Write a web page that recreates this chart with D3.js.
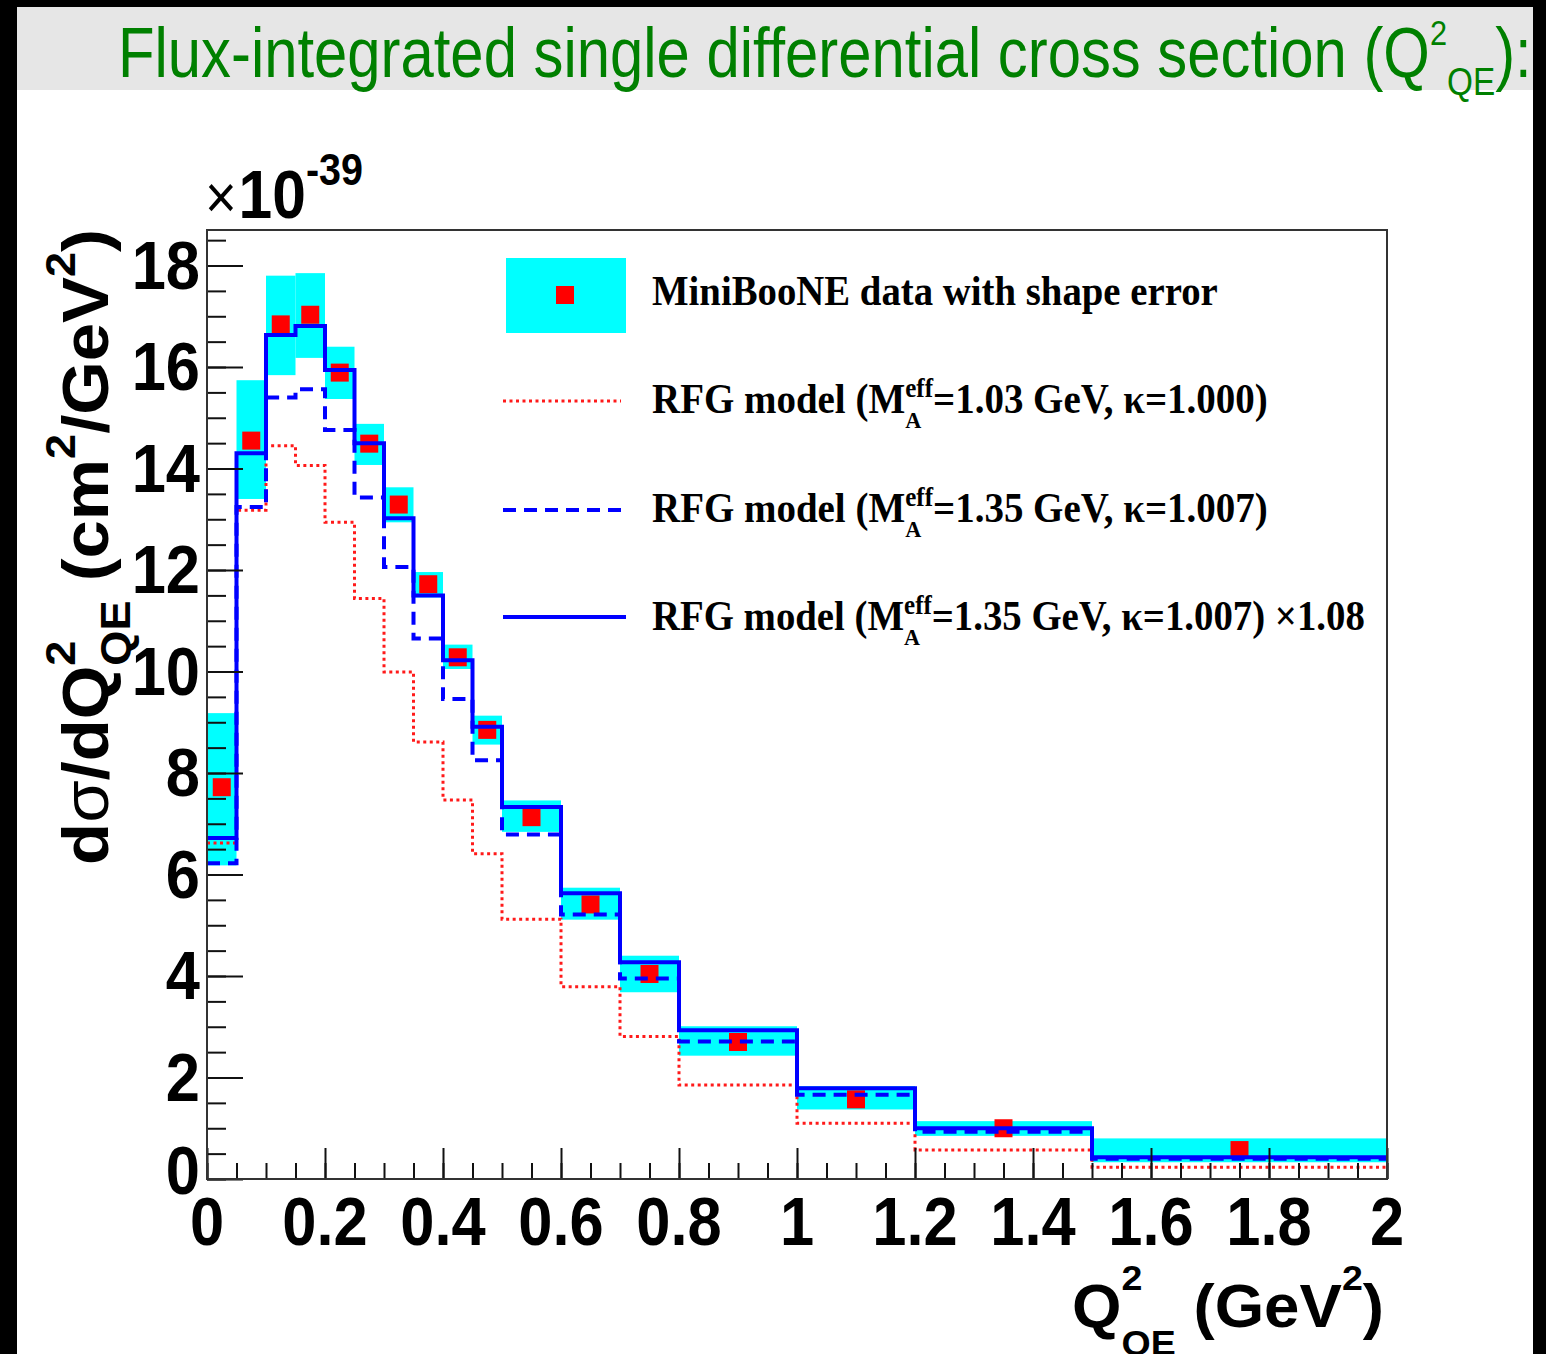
<!DOCTYPE html>
<html>
<head>
<meta charset="utf-8">
<script src="https://cdn.jsdelivr.net/npm/d3@7"></script>
<style>
  html, body { margin: 0; padding: 0; background: #fff; }
  svg { display: block; }
  text { white-space: pre; }
</style>
</head>
<body>
<svg id="chart" width="1546" height="1354"></svg>
<script>
// Q^2_QE bin edges (GeV^2)
const binEdges = [0, 0.05, 0.1, 0.15, 0.2, 0.25, 0.3, 0.35, 0.4, 0.45, 0.5, 0.6, 0.7, 0.8, 1.0, 1.2, 1.5, 2.0];

// MiniBooNE measured cross section, units of 1e-39 cm^2/GeV^2
const dataValues   = [7.72, 14.55, 16.84, 17.03, 15.89, 14.49, 13.29, 11.72, 10.28, 8.85, 7.13, 5.41, 4.04, 2.70, 1.57, 1.00, 0.57];
// shape-error band limits
const shapeErrHigh = [9.18, 15.74, 17.80, 17.85, 16.40, 14.88, 13.63, 11.96, 10.53, 9.13, 7.46, 5.74, 4.40, 3.01, 1.83, 1.14, 0.80];
const shapeErrLow  = [6.18, 13.40, 15.84, 16.18, 15.37, 14.07, 12.94, 11.46, 10.05, 8.56, 6.84, 5.11, 3.68, 2.43, 1.37, 0.85, 0.33];

// RFG model predictions
const rfgMA103     = [6.62, 13.18, 14.45, 14.06, 12.94, 11.44, 9.99, 8.61, 7.47, 6.41, 5.12, 3.79, 2.81, 1.85, 1.10, 0.57, 0.23];
const rfgMA135     = [6.22, 13.24, 15.40, 15.56, 14.76, 13.43, 12.06, 10.65, 9.46, 8.25, 6.79, 5.21, 3.95, 2.71, 1.66, 0.93, 0.40];
const rfgMA135x108 = [6.72, 14.30, 16.63, 16.81, 15.94, 14.50, 13.02, 11.50, 10.22, 8.91, 7.33, 5.63, 4.27, 2.93, 1.79, 1.00, 0.43];

// axis ticks
const xMajorTicks = [0, 0.2, 0.4, 0.6, 0.8, 1.0, 1.2, 1.4, 1.6, 1.8, 2.0];
const xTickLabels = ["0", "0.2", "0.4", "0.6", "0.8", "1", "1.2", "1.4", "1.6", "1.8", "2"];
const yMajorTicks = [0, 2, 4, 6, 8, 10, 12, 14, 16, 18];
const yTickLabels = ["0", "2", "4", "6", "8", "10", "12", "14", "16", "18"];

const W = 1546, H = 1354;
const svg = d3.select("#chart");

const x = d3.scaleLinear().domain([0, 2]).range([207, 1387]);
const y = d3.scaleLinear().domain([0, 18.7]).range([1179, 230]);

// Builds a text element from segments with super/subscripts.
// shift = baseline offset, stack = place under the previous segment.
function rich(parent, segs, opts) {
  const t = parent.append("text")
    .attr("font-family", opts.family)
    .attr("font-weight", opts.weight || "normal")
    .attr("font-size", opts.size)
    .attr("fill", opts.fill || "#000")
    .attr("text-anchor", opts.anchor || "start");
  let shift = 0, prev = null, pendingDx = 0;
  segs.forEach(s => {
    const ts = t.append("tspan").text(s.t);
    if (s.size) ts.attr("font-size", s.size);
    if (s.weight) ts.attr("font-weight", s.weight);
    const target = s.shift || 0;
    if (target - shift !== 0) ts.attr("dy", target - shift);
    shift = target;
    let dx = pendingDx; pendingDx = 0;
    if (s.stack && prev) {
      const pw = prev.node().getComputedTextLength();
      const cw = ts.node().getComputedTextLength();
      dx += -pw;
      pendingDx = Math.max(pw - cw, 0);
    }
    if (s.dx) dx += s.dx;
    if (dx) ts.attr("dx", dx);
    prev = ts;
  });
  return t;
}
// Horizontal squeeze so the text spans the given width.
function fitWidth(textSel, width) {
  const w = textSel.node().getBBox().width;
  return width / w;
}

// ---------- header band ----------
svg.append("rect").attr("x", 0).attr("y", 0).attr("width", W).attr("height", H).attr("fill", "#fff");
svg.append("rect").attr("x", 17).attr("y", 7).attr("width", 1516).attr("height", 83).attr("fill", "#e6e6e6");

const titleG = svg.append("g");
const title = rich(titleG, [
  { t: "Flux-integrated single differential cross section (Q" },
  { t: "2", size: 36, shift: -32 },
  { t: "QE", size: 39, shift: 18 },
  { t: "):", shift: 0 }
], { family: "'Liberation Sans Narrow', 'Liberation Sans', Arial, sans-serif", size: 70, fill: "#008000" });
titleG.attr("transform", `translate(118,77) scale(${fitWidth(title, 1414)},1)`);

// ---------- shape-error band ----------
const bins = dataValues.map((v, i) => ({
  lo: binEdges[i], hi: binEdges[i + 1], v,
  eh: shapeErrHigh[i], el: shapeErrLow[i]
}));

svg.append("g").selectAll("rect").data(bins).join("rect")
  .attr("x", d => x(d.lo))
  .attr("width", d => x(d.hi) - x(d.lo))
  .attr("y", d => y(d.eh))
  .attr("height", d => y(d.el) - y(d.eh))
  .attr("fill", "#00ffff");

// ---------- data markers ----------
const mk = 18;
svg.append("g").selectAll("rect").data(bins).join("rect")
  .attr("x", d => x((d.lo + d.hi) / 2) - mk / 2)
  .attr("y", d => y(d.v) - mk / 2)
  .attr("width", mk).attr("height", mk)
  .attr("fill", "#ff0000");

// ---------- model histograms ----------
const stepLine = d3.line().x(d => x(d[0])).y(d => y(d[1])).curve(d3.curveStepAfter);
const histPts = vals => binEdges.map((e, i) => [e, vals[Math.min(i, vals.length - 1)]]);

svg.append("path").attr("d", stepLine(histPts(rfgMA103)))
  .attr("fill", "none").attr("stroke", "#ff1a1a").attr("stroke-width", 3)
  .attr("stroke-dasharray", "3,3.5");
svg.append("path").attr("d", stepLine(histPts(rfgMA135)))
  .attr("fill", "none").attr("stroke", "#0000ff").attr("stroke-width", 4)
  .attr("stroke-dasharray", "13,8");
svg.append("path").attr("d", stepLine(histPts(rfgMA135x108)))
  .attr("fill", "none").attr("stroke", "#0000ff").attr("stroke-width", 4);

// ---------- axes ----------
const tickStyle = g => {
  g.select(".domain").remove();
  g.selectAll(".tick line").attr("stroke", "#111").attr("stroke-width", 2);
};
svg.append("g").attr("transform", "translate(0,1179)")
  .call(d3.axisBottom(x).tickValues(d3.range(0, 2.0001, 0.05)).tickSize(-16).tickFormat(""))
  .call(tickStyle);
svg.append("g").attr("transform", "translate(0,1179)")
  .call(d3.axisBottom(x).tickValues(xMajorTicks).tickSize(-31).tickFormat(""))
  .call(tickStyle);
svg.append("g").attr("transform", "translate(207,0)")
  .call(d3.axisLeft(y).tickValues(d3.range(0, 18.5001, 0.5)).tickSize(-19).tickFormat(""))
  .call(tickStyle);
svg.append("g").attr("transform", "translate(207,0)")
  .call(d3.axisLeft(y).tickValues(yMajorTicks).tickSize(-36).tickFormat(""))
  .call(tickStyle);

// frame
svg.append("rect").attr("x", 207).attr("y", 230).attr("width", 1180).attr("height", 949)
  .attr("fill", "none").attr("stroke", "#333").attr("stroke-width", 2);

// tick labels
const labFont = "'Liberation Sans', Arial, Helvetica, sans-serif";
const sq = 0.89;
svg.append("g").selectAll("text").data(xMajorTicks).join("text")
  .attr("transform", d => `translate(${x(d)},1245) scale(${sq},1)`)
  .attr("text-anchor", "middle")
  .attr("font-family", labFont).attr("font-weight", "bold").attr("font-size", 69)
  .text((d, i) => xTickLabels[i]);
svg.append("g").selectAll("text").data(yMajorTicks).join("text")
  .attr("transform", d => `translate(200,${y(d) + (d === 0 ? 15 : 23)}) scale(${sq},1)`)
  .attr("text-anchor", "end")
  .attr("font-family", labFont).attr("font-weight", "bold").attr("font-size", 69)
  .text((d, i) => yTickLabels[i]);

// exponent label
const expG = svg.append("g");
const expT = rich(expG, [
  { t: "×", size: 62, weight: "normal" },
  { t: "10", dx: 2 },
  { t: "-39", size: 45, shift: -33 }
], { family: labFont, weight: "bold", size: 69 });
expG.attr("transform", `translate(205,218) scale(${fitWidth(expT, 158)},1)`);

// y-axis title
const yTitleG = svg.append("g");
const yTitle = rich(yTitleG, [
  { t: "d" },
  { t: "σ", weight: "normal" },
  { t: "/dQ" },
  { t: "2", size: 42, shift: -33 },
  { t: "QE", size: 42, shift: 22, stack: true },
  { t: " (cm", shift: 0 },
  { t: "2", size: 42, shift: -33 },
  { t: "/GeV", shift: 0 },
  { t: "2", size: 42, shift: -33 },
  { t: ")", shift: 0 }
], { family: labFont, weight: "bold", size: 64, anchor: "end" });
yTitleG.attr("transform", `translate(108,229) rotate(-90) scale(${fitWidth(yTitle, 636)},1)`);

// x-axis title
const xTitleG = svg.append("g");
const xTitle = rich(xTitleG, [
  { t: "Q" },
  { t: "2", size: 36, shift: -37 },
  { t: "QE", size: 36, shift: 28, stack: true },
  { t: " (GeV", shift: 0 },
  { t: "2", size: 36, shift: -37 },
  { t: ")", shift: 0 }
], { family: labFont, weight: "bold", size: 61, anchor: "end" });
xTitleG.attr("transform", `translate(1384,1327) scale(${fitWidth(xTitle, 312)},1)`);

// ---------- legend ----------
const legFont = "'Liberation Serif', 'Times New Roman', Times, serif";
const leg = svg.append("g");
leg.append("rect").attr("x", 506).attr("y", 258).attr("width", 120).attr("height", 75).attr("fill", "#00ffff");
leg.append("rect").attr("x", 565 - mk / 2).attr("y", 295 - mk / 2).attr("width", mk).attr("height", mk).attr("fill", "#ff0000");
leg.append("line").attr("x1", 503).attr("x2", 621).attr("y1", 401).attr("y2", 401)
  .attr("stroke", "#ff1a1a").attr("stroke-width", 3).attr("stroke-dasharray", "3,3.5");
leg.append("line").attr("x1", 503).attr("x2", 626).attr("y1", 510).attr("y2", 510)
  .attr("stroke", "#0000ff").attr("stroke-width", 4).attr("stroke-dasharray", "13,8");
leg.append("line").attr("x1", 503).attr("x2", 626).attr("y1", 617).attr("y2", 617)
  .attr("stroke", "#0000ff").attr("stroke-width", 4);

const maSegs = (ma, kappa, tail) => [
  { t: "RFG model (M" },
  { t: "eff", size: 27, shift: -16 },
  { t: "A", size: 24, shift: 15, stack: true },
  { t: `=${ma} GeV, κ=${kappa})${tail}`, shift: 0 }
];
const legendRows = [
  { segs: [{ t: "MiniBooNE data with shape error" }], base: 305, width: 566 },
  { segs: maSegs("1.03", "1.000", ""), base: 413, width: 616 },
  { segs: maSegs("1.35", "1.007", ""), base: 522, width: 616 },
  { segs: maSegs("1.35", "1.007", " ×1.08"), base: 630, width: 713 }
];
legendRows.forEach(r => {
  const g = leg.append("g");
  const t = rich(g, r.segs, { family: legFont, weight: "bold", size: 42 });
  g.attr("transform", `translate(652,${r.base}) scale(${fitWidth(t, r.width)},1)`);
});

// ---------- outer black border ----------
svg.append("rect").attr("x", 0).attr("y", 0).attr("width", 17).attr("height", H).attr("fill", "#000");
svg.append("rect").attr("x", 0).attr("y", 0).attr("width", W).attr("height", 7).attr("fill", "#000");
svg.append("rect").attr("x", 1533).attr("y", 0).attr("width", W - 1533).attr("height", H).attr("fill", "#000");
</script>
</body>
</html>
